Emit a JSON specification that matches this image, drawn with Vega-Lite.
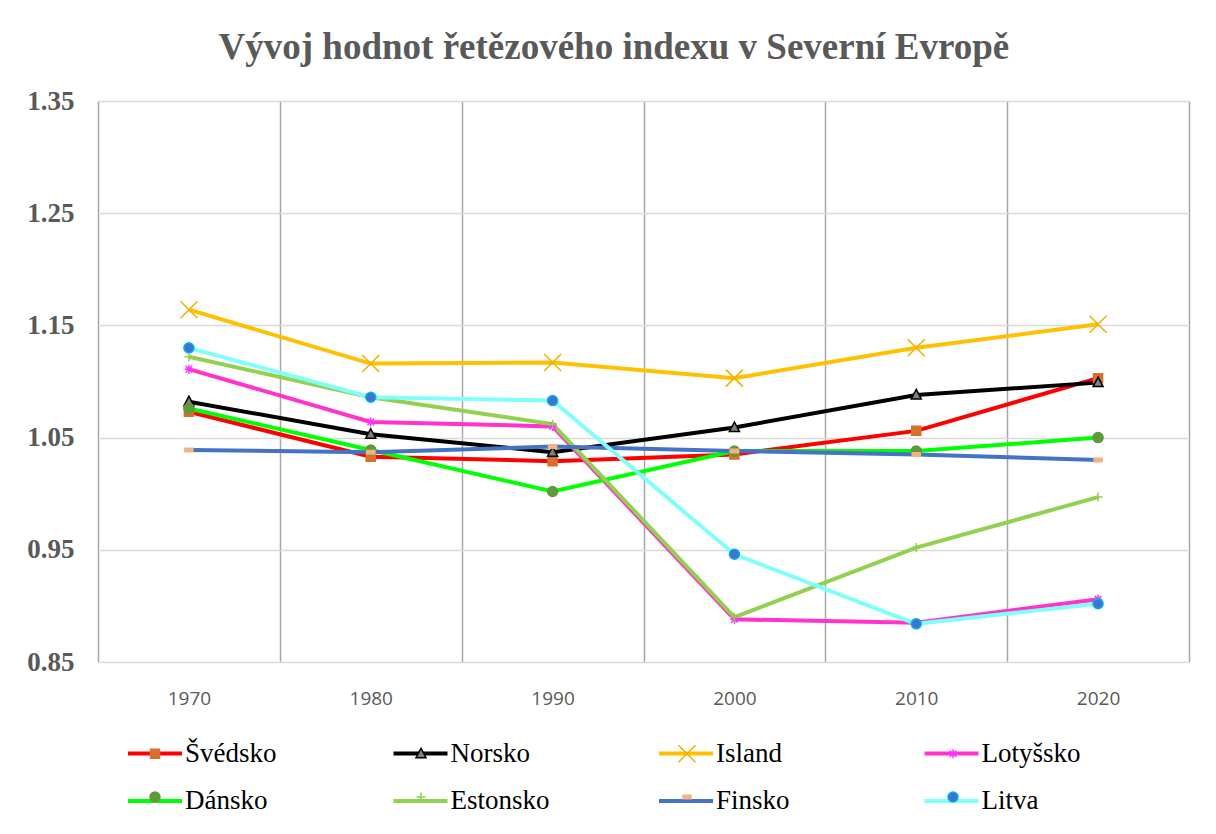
{
  "$schema": "https://vega.github.io/schema/vega-lite/v6.json",
  "width": 1091,
  "height": 561,
  "autosize": {"type": "none"},
  "padding": {"left": 98, "top": 101, "right": 27, "bottom": 172},
  "background": "white",
  "title": {
    "text": "Vývoj hodnot řetězového indexu v Severní Evropě",
    "font": "Liberation Serif",
    "fontSize": 37,
    "fontWeight": "bold",
    "color": "#595959",
    "anchor": "middle",
    "frame": "bounds",
    "offset": 20,
    "dx": 6
  },
  "config": {"view": {"stroke": null}},
  "data": {
    "values": [
      {"year": "1970", "country": "Švédsko", "value": 1.073},
      {"year": "1980", "country": "Švédsko", "value": 1.033},
      {"year": "1990", "country": "Švédsko", "value": 1.029},
      {"year": "2000", "country": "Švédsko", "value": 1.035},
      {"year": "2010", "country": "Švédsko", "value": 1.056},
      {"year": "2020", "country": "Švédsko", "value": 1.103},
      {"year": "1970", "country": "Norsko", "value": 1.082},
      {"year": "1980", "country": "Norsko", "value": 1.053},
      {"year": "1990", "country": "Norsko", "value": 1.037},
      {"year": "2000", "country": "Norsko", "value": 1.059},
      {"year": "2010", "country": "Norsko", "value": 1.088},
      {"year": "2020", "country": "Norsko", "value": 1.099},
      {"year": "1970", "country": "Island", "value": 1.164},
      {"year": "1980", "country": "Island", "value": 1.116},
      {"year": "1990", "country": "Island", "value": 1.117},
      {"year": "2000", "country": "Island", "value": 1.103},
      {"year": "2010", "country": "Island", "value": 1.130},
      {"year": "2020", "country": "Island", "value": 1.151},
      {"year": "1970", "country": "Lotyšsko", "value": 1.111},
      {"year": "1980", "country": "Lotyšsko", "value": 1.064},
      {"year": "1990", "country": "Lotyšsko", "value": 1.060},
      {"year": "2000", "country": "Lotyšsko", "value": 0.888},
      {"year": "2010", "country": "Lotyšsko", "value": 0.885},
      {"year": "2020", "country": "Lotyšsko", "value": 0.906},
      {"year": "1970", "country": "Dánsko", "value": 1.076},
      {"year": "1980", "country": "Dánsko", "value": 1.039},
      {"year": "1990", "country": "Dánsko", "value": 1.002},
      {"year": "2000", "country": "Dánsko", "value": 1.038},
      {"year": "2010", "country": "Dánsko", "value": 1.038},
      {"year": "2020", "country": "Dánsko", "value": 1.050},
      {"year": "1970", "country": "Estonsko", "value": 1.122},
      {"year": "1980", "country": "Estonsko", "value": 1.086},
      {"year": "1990", "country": "Estonsko", "value": 1.062},
      {"year": "2000", "country": "Estonsko", "value": 0.890},
      {"year": "2010", "country": "Estonsko", "value": 0.952},
      {"year": "2020", "country": "Estonsko", "value": 0.997},
      {"year": "1970", "country": "Finsko", "value": 1.039},
      {"year": "1980", "country": "Finsko", "value": 1.037},
      {"year": "1990", "country": "Finsko", "value": 1.042},
      {"year": "2000", "country": "Finsko", "value": 1.038},
      {"year": "2010", "country": "Finsko", "value": 1.035},
      {"year": "2020", "country": "Finsko", "value": 1.030},
      {"year": "1970", "country": "Litva", "value": 1.130},
      {"year": "1980", "country": "Litva", "value": 1.086},
      {"year": "1990", "country": "Litva", "value": 1.083},
      {"year": "2000", "country": "Litva", "value": 0.946},
      {"year": "2010", "country": "Litva", "value": 0.884},
      {"year": "2020", "country": "Litva", "value": 0.902}
    ]
  },
  "encoding": {
    "x": {
      "field": "year",
      "type": "ordinal",
      "scale": {"type": "band", "paddingInner": 0, "paddingOuter": 0},
      "axis": {
        "title": null,
        "tickBand": "extent",
        "grid": true,
        "gridColor": "#a6a6a6",
        "gridWidth": 1.5,
        "ticks": false,
        "domain": false,
        "labelAngle": 0,
        "labelFont": "Open Sans",
        "labelFontSize": 19,
        "labelColor": "#595959",
        "labelPadding": 27
      }
    },
    "y": {
      "field": "value",
      "type": "quantitative",
      "scale": {"domain": [0.85, 1.35], "zero": false, "nice": false},
      "axis": {
        "title": null,
        "values": [0.85, 0.95, 1.05, 1.15, 1.25, 1.35],
        "format": ".2f",
        "grid": true,
        "gridColor": "#d9d9d9",
        "gridWidth": 1.5,
        "ticks": false,
        "domain": false,
        "labelFont": "Liberation Serif",
        "labelFontSize": 27,
        "labelFontWeight": "bold",
        "labelColor": "#595959",
        "labelPadding": 24
      }
    }
  },
  "layer": [
    {
      "mark": {"type": "line", "strokeWidth": 4},
      "encoding": {
        "color": {
          "field": "country",
          "type": "nominal",
          "sort": ["Švédsko", "Norsko", "Island", "Lotyšsko", "Dánsko", "Estonsko", "Finsko", "Litva"],
          "scale": {
            "range": ["#ff0000", "#000000", "#ffc000", "#ff33cc", "#00ff00", "#92d050", "#4472c4", "#80fffa"]
          },
          "legend": {
            "orient": "none",
            "legendX": 28,
            "legendY": 623.5,
            "columns": 4,
            "direction": "horizontal",
            "gridAlign": "all",
            "columnPadding": 100.5,
            "rowPadding": 5.5,
            "title": null,
            "padding": 0,
            "symbolType": "stroke",
            "symbolSize": 2916,
            "symbolStrokeWidth": 4,
            "labelFont": "Liberation Serif",
            "labelFontSize": 27,
            "labelColor": "#000000",
            "labelOffset": 1,
            "labelLimit": 300
          }
        }
      }
    },
    {
      "mark": {"type": "point", "size": 400, "strokeWidth": 1.5, "opacity": 1},
      "encoding": {
        "shape": {
          "field": "country",
          "type": "nominal",
          "scale": {
            "domain": ["Švédsko", "Norsko", "Island", "Lotyšsko", "Dánsko", "Estonsko", "Finsko", "Litva"],
            "range": [
              "M-0.45,-0.45H0.45V0.45H-0.45Z",
              "M0,-0.55L0.5,0.4L-0.5,0.4Z",
              "M-0.85,-0.85L0.85,0.85M-0.85,0.85L0.85,-0.85",
              "M-0.4,0H0.4M0,-0.45V0.45M-0.33,-0.33L0.33,0.33M-0.33,0.33L0.33,-0.33",
              "M-0.5,0A0.5,0.5,0,1,0,0.5,0A0.5,0.5,0,1,0,-0.5,0Z",
              "M-0.45,0H0.45M0,-0.45V0.45",
              "M-0.4,-0.17H0.4V0.17H-0.4Z",
              "M-0.5,0A0.5,0.5,0,1,0,0.5,0A0.5,0.5,0,1,0,-0.5,0Z"
            ]
          },
          "legend": {
            "orient": "none",
            "legendX": 28,
            "legendY": 639,
            "columns": 4,
            "direction": "horizontal",
            "gridAlign": "all",
            "columnPadding": 92,
            "rowPadding": 15.5,
            "title": null,
            "padding": 0,
            "symbolSize": 400,
            "symbolStrokeWidth": 1.5,
            "symbolOffset": 15.5,
            "symbolFillColor": "#000000",
            "symbolStrokeColor": "#000000",
            "symbolOpacity": 1,
            "labelFont": "Liberation Serif",
            "labelFontSize": 27,
            "labelOpacity": 0,
            "labelOffset": 32,
            "labelLimit": 300
          }
        },
        "fill": {
          "field": "country",
          "type": "nominal",
          "scale": {
            "domain": ["Švédsko", "Norsko", "Island", "Lotyšsko", "Dánsko", "Estonsko", "Finsko", "Litva"],
            "range": ["#d5712c", "#7f7f7f", "transparent", "transparent", "#5e9a3c", "transparent", "#f4b183", "#3f74cc"]
          },
          "legend": {
            "orient": "none",
            "legendX": 28,
            "legendY": 639,
            "columns": 4,
            "direction": "horizontal",
            "gridAlign": "all",
            "columnPadding": 92,
            "rowPadding": 15.5,
            "title": null,
            "padding": 0,
            "symbolSize": 400,
            "symbolStrokeWidth": 1.5,
            "symbolOffset": 15.5,
            "symbolFillColor": "#000000",
            "symbolStrokeColor": "#000000",
            "symbolOpacity": 1,
            "labelFont": "Liberation Serif",
            "labelFontSize": 27,
            "labelOpacity": 0,
            "labelOffset": 32,
            "labelLimit": 300
          }
        },
        "stroke": {
          "field": "country",
          "type": "nominal",
          "scale": {
            "domain": ["Švédsko", "Norsko", "Island", "Lotyšsko", "Dánsko", "Estonsko", "Finsko", "Litva"],
            "range": ["#d5712c", "#000000", "#f0b000", "#ff33ff", "#5e9a3c", "#92d050", "#f4b183", "#00b0f0"]
          },
          "legend": {
            "orient": "none",
            "legendX": 28,
            "legendY": 639,
            "columns": 4,
            "direction": "horizontal",
            "gridAlign": "all",
            "columnPadding": 92,
            "rowPadding": 15.5,
            "title": null,
            "padding": 0,
            "symbolSize": 400,
            "symbolStrokeWidth": 1.5,
            "symbolOffset": 15.5,
            "symbolFillColor": "#000000",
            "symbolStrokeColor": "#000000",
            "symbolOpacity": 1,
            "labelFont": "Liberation Serif",
            "labelFontSize": 27,
            "labelOpacity": 0,
            "labelOffset": 32,
            "labelLimit": 300
          }
        }
      }
    }
  ]
}
